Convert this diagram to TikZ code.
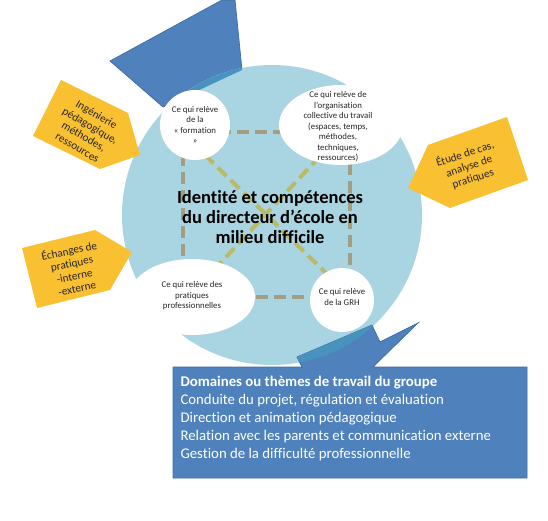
\documentclass[tikz,border=0pt]{standalone}
\usepackage{fontspec}
\setmainfont{Carlito}[Ligatures=NoCommon]
\usetikzlibrary{shapes.geometric}
\definecolor{lbl}{HTML}{A9D4E1}
\definecolor{blu}{HTML}{4F81BD}
\definecolor{bluedge}{HTML}{3E6CA3}
\definecolor{ovl}{HTML}{4893BE}
\definecolor{orng}{HTML}{F9C032}
\definecolor{sqc}{HTML}{A39E82}
\definecolor{dgc}{HTML}{BABA66}
\begin{document}
\begin{tikzpicture}[x=1pt,y=-1pt,
  bluesh/.style={fill=blu,draw=bluedge,line width=0.7pt},
  orangesh/.style={fill=orng},
  sqline/.style={draw=sqc,line width=4pt,dash pattern=on 12pt off 6pt},
  dgline/.style={draw=dgc,line width=4pt,dash pattern=on 12pt off 6pt},
  wbub/.style={fill=white,inner sep=0pt},
  small/.style={align=center,text=black!85,font=\fontsize{8.8}{10.5}\selectfont},
  tagtxt/.style={align=center,text=black!85,font=\fontsize{11.2}{12.8}\selectfont},
  ]
\useasboundingbox (0,0) rectangle (548,521);
% top blue arrow
\path[bluesh] (110,61) -- (222,0) -- (235,0) -- (242,70) -- (163,107) -- cycle;
% big circle
\fill[lbl] (272,215) circle (150);
\begin{scope}
  \clip (272,215) circle (150);
  \fill[ovl] (110,61) -- (222,0) -- (235,0) -- (242,70) -- (163,107) -- cycle;
\end{scope}
% dashed square and diagonals
\coordinate (q1) at (183,132);
\coordinate (q2) at (350,132);
\coordinate (q3) at (350,297);
\coordinate (q4) at (183,297);
\draw[sqline] (q1) -- (q2) -- (q3) -- (q4) -- cycle;
\coordinate (d1) at (205,155);
\coordinate (d2) at (328,275);
\coordinate (d3) at (320,156);
\coordinate (d4) at (213,271);
\draw[dgline] (d1) -- (d2);
\draw[dgline] (d3) -- (d4);
% white bubbles
\node[wbub,circle,minimum size=70pt] (form) at (195,125) {};
\node[small] at (form.center) {Ce qui relève\\de la\\« formation\\»};
\node[wbub,ellipse,minimum width=124pt,minimum height=80pt] (org) at (341,125) {};
\node[small] at (338,127) {Ce qui relève de\\l’organisation\\collective du travail\\(espaces, temps,\\méthodes,\\techniques,\\ressources)};
\node[wbub,ellipse,minimum width=126pt,minimum height=76pt] (prat) at (192,297) {};
\node[small] at (192,296) {Ce qui relève des\\pratiques\\professionnelles};
\node[wbub,circle,minimum size=64pt] (grh) at (342,300) {};
\node[small] at (342,297) {Ce qui relève\\de la GRH};
% title
\node[align=center,font=\bfseries\fontsize{18.5}{20}\selectfont] (title) at (270,217)
  {Identité et compétences\\du directeur d’école en\\milieu difficile};
% bottom callout
\path[bluesh] (173,367) -- (302,367) -- (297,357) -- (372,325) -- (380,342) -- (418,323)
  -- (373,367) -- (527,367) -- (527,478) -- (173,478) -- cycle;
\begin{scope}
  \clip (272,215) circle (150);
  \fill[ovl] (302,367) -- (297,357) -- (372,325) -- (380,342) -- (418,323) -- (373,367) -- cycle;
\end{scope}
\node[anchor=north west,align=left,text=white,font=\fontsize{14.8}{18}\selectfont] (dom) at (177,373)
  {\textbf{Domaines ou thèmes de travail du groupe}\\
   Conduite du projet, régulation et évaluation\\
   Direction et animation pédagogique\\
   Relation avec les parents et communication externe\\
   Gestion de la difficulté professionnelle};
% orange tags
\path[orangesh] (61,80) -- (128,113) -- (140,155) -- (100,169) -- (33,136) -- cycle;
\node[tagtxt,rotate=-30] (ing) at (87,131) {Ingénierie\\pédagogique,\\méthodes,\\ressources};
\path[orangesh] (22,248) -- (95,230) -- (132,252) -- (110,290) -- (37,308) -- cycle;
\node[tagtxt,rotate=12] (ech) at (73,269) {Échanges de\\pratiques\\-interne\\-externe};
\path[orangesh] (507,117) -- (528,180) -- (450,208) -- (408,188) -- (428,145) -- cycle;
\node[tagtxt,rotate=18] (etu) at (469,166) {Étude de cas,\\analyse de\\pratiques};
\end{tikzpicture}
\end{document}
